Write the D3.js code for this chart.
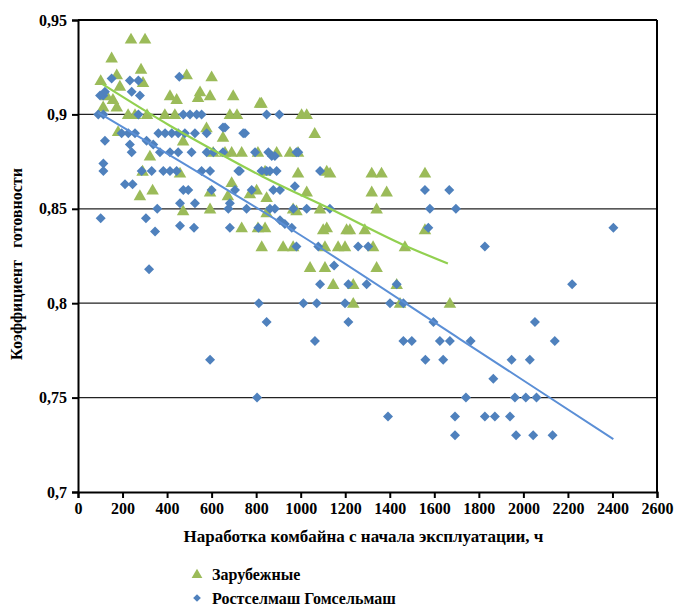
<!DOCTYPE html>
<html>
<head>
<meta charset="utf-8">
<script src="https://cdn.jsdelivr.net/npm/d3@7"></script>
<style>
  body { margin: 0; background: #fff; }
</style>
</head>
<body>
<div id="chart"></div>
<script>
// Зарубежные: [наработка, коэффициент]
const foreign = [
  [238, 0.94], [301, 0.94], [151, 0.93],
  [102, 0.918], [174, 0.921], [283, 0.924], [292, 0.917], [488, 0.921], [600, 0.92],
  [129, 0.91], [188, 0.915], [413, 0.91], [548, 0.912], [539, 0.909], [593, 0.91], [697, 0.91],
  [157, 0.908], [443, 0.908], [817, 0.906], [824, 0.906],
  [113, 0.904], [174, 0.904], [225, 0.9], [256, 0.9], [310, 0.9], [390, 0.9], [435, 0.9],
  [682, 0.9], [714, 0.9], [1004, 0.9], [1027, 0.9],
  [180, 0.891], [577, 0.893], [651, 0.888], [1063, 0.89],
  [323, 0.878], [472, 0.886], [607, 0.88], [660, 0.88], [690, 0.88], [735, 0.88], [808, 0.88],
  [892, 0.88], [952, 0.88], [988, 0.88],
  [290, 0.87], [458, 0.869], [840, 0.87], [988, 0.869], [1117, 0.87], [1132, 0.869],
  [1319, 0.869], [1363, 0.869], [1558, 0.869],
  [278, 0.857], [335, 0.86], [593, 0.859], [673, 0.857], [690, 0.864], [772, 0.858],
  [802, 0.86], [847, 0.856], [1027, 0.859], [1319, 0.859], [1386, 0.859],
  [472, 0.849], [593, 0.85], [847, 0.848], [966, 0.85], [981, 0.849], [1087, 0.85], [1341, 0.85],
  [735, 0.84], [808, 0.84], [840, 0.84], [1101, 0.839], [1206, 0.839], [1221, 0.839],
  [1288, 0.839], [1558, 0.839], [1117, 0.84],
  [825, 0.83], [921, 0.83], [966, 0.83], [1109, 0.83], [1168, 0.83], [1199, 0.83], [1325, 0.83], [1468, 0.83],
  [1042, 0.819], [1109, 0.819], [1341, 0.819],
  [1146, 0.81], [1236, 0.81], [1431, 0.81],
  [1236, 0.8], [1446, 0.8], [1670, 0.8]
];

// Ростселмаш Гомсельмаш
const domestic = [
  [151, 0.919], [233, 0.918], [271, 0.918], [455, 0.92],
  [99, 0.91], [113, 0.91], [121, 0.912], [241, 0.912], [278, 0.91],
  [91, 0.9], [114, 0.9], [271, 0.9], [473, 0.9], [503, 0.9], [533, 0.9], [555, 0.9], [847, 0.9], [904, 0.9],
  [196, 0.89], [226, 0.89], [256, 0.89], [361, 0.89], [391, 0.89], [421, 0.89], [450, 0.89],
  [480, 0.89], [525, 0.89], [578, 0.89], [651, 0.893], [660, 0.893], [742, 0.89], [750, 0.89],
  [121, 0.886], [233, 0.884], [241, 0.88], [308, 0.886], [338, 0.884], [368, 0.88], [413, 0.88],
  [450, 0.88], [510, 0.88], [578, 0.88], [608, 0.88], [651, 0.88], [795, 0.88], [855, 0.88],
  [870, 0.878], [884, 0.878], [981, 0.88], [989, 0.88],
  [114, 0.874], [114, 0.87], [286, 0.87], [331, 0.87], [383, 0.87], [413, 0.87], [443, 0.87],
  [555, 0.87], [593, 0.87], [720, 0.87], [727, 0.87], [824, 0.87], [847, 0.87],
  [862, 0.87], [892, 0.87], [1087, 0.87],
  [211, 0.863], [245, 0.863], [473, 0.86], [495, 0.86], [600, 0.86], [705, 0.86], [780, 0.86],
  [877, 0.86], [907, 0.86], [974, 0.862], [1558, 0.86], [1667, 0.86],
  [356, 0.85], [458, 0.853], [525, 0.853], [682, 0.853], [675, 0.85], [757, 0.85], [862, 0.85],
  [884, 0.85], [967, 0.85], [1027, 0.85], [1131, 0.85], [1580, 0.85], [1697, 0.85],
  [102, 0.845], [305, 0.845], [346, 0.838], [458, 0.841], [521, 0.84], [682, 0.84], [810, 0.84],
  [907, 0.844], [929, 0.842], [960, 0.84], [1573, 0.84], [2404, 0.84],
  [981, 0.83], [1079, 0.83], [1258, 0.83], [1303, 0.83], [1827, 0.83],
  [319, 0.818], [1150, 0.82],
  [1087, 0.81], [1214, 0.81], [1296, 0.81], [1431, 0.81], [2219, 0.81],
  [812, 0.8], [1012, 0.8], [1072, 0.8], [1199, 0.8], [1401, 0.8], [1461, 0.8],
  [847, 0.79], [1214, 0.79], [1596, 0.79], [2052, 0.79],
  [1064, 0.78], [1461, 0.78], [1499, 0.78], [1625, 0.78], [1670, 0.78], [1763, 0.78], [2141, 0.78],
  [593, 0.77], [1560, 0.77], [1640, 0.77], [1947, 0.77], [2029, 0.77],
  [1865, 0.76],
  [804, 0.75], [1742, 0.75], [1962, 0.75], [2011, 0.75], [2059, 0.75],
  [1392, 0.74], [1693, 0.74], [1827, 0.74], [1872, 0.74], [1940, 0.74],
  [1693, 0.73], [1967, 0.73], [2044, 0.73], [2131, 0.73]
];

// линии тренда
const foreignTrend = [[110, 0.916], [413, 0.894], [548, 0.885], [830, 0.867], [1132, 0.85], [1459, 0.831], [1661, 0.821]];
const domesticTrend = [[91, 0.901], [1000, 0.836], [1715, 0.781], [2404, 0.728]];

const xTicks = d3.range(0, 2601, 200);
const yTicks = [0.7, 0.75, 0.8, 0.85, 0.9, 0.95];
const legendLabels = ['Зарубежные', 'Ростселмаш Гомсельмаш'];

const FONT = '"Liberation Serif", "Times New Roman", serif';

const W = 676, H = 606;
const margin = { top: 20, right: 19, bottom: 114, left: 78 };
const width = W - margin.left - margin.right;
const height = H - margin.top - margin.bottom;

const svg = d3.select('#chart').append('svg')
  .attr('width', W).attr('height', H)
  .attr('font-family', FONT).attr('font-weight', 'bold');
const g = svg.append('g').attr('transform', `translate(${margin.left},${margin.top})`);

const x = d3.scaleLinear().domain([0, 2600]).range([0, width]);
const y = d3.scaleLinear().domain([0.7, 0.95]).range([height, 0]);
const fmt = d => String(+d.toFixed(2)).replace('.', ',');

// сетка
g.selectAll('.grid').data(yTicks.slice(1, -1)).enter().append('line')
  .attr('x1', 0).attr('x2', width)
  .attr('y1', d => y(d)).attr('y2', d => y(d))
  .attr('stroke', '#222').attr('stroke-width', 1.2);

// рамка сверху и справа
g.append('line').attr('x1', 0).attr('x2', width).attr('y1', 0).attr('y2', 0)
  .attr('stroke', '#000').attr('stroke-width', 2);
g.append('line').attr('x1', width).attr('x2', width).attr('y1', 0).attr('y2', height)
  .attr('stroke', '#000').attr('stroke-width', 2);

// оси
const xAxis = g.append('g').attr('transform', `translate(0,${height})`)
  .call(d3.axisBottom(x).tickValues(xTicks).tickSize(6).tickPadding(5).tickFormat(d3.format('d')));
const yAxis = g.append('g')
  .call(d3.axisLeft(y).tickValues(yTicks).tickSize(6).tickPadding(5).tickFormat(fmt));
[xAxis, yAxis].forEach(a => {
  a.attr('font-family', FONT).attr('font-weight', 'bold');
  a.select('.domain').attr('stroke', '#000').attr('stroke-width', 2);
  a.selectAll('.tick line').attr('stroke', '#000').attr('stroke-width', 2);
  a.selectAll('.tick text').attr('font-size', 16).attr('fill', '#000');
});

// точки
const tri = d3.symbol().type(d3.symbolTriangle).size(68);
const dia = d3.symbol().type(d3.symbolSquare).size(50);

g.selectAll('.foreign').data(foreign).enter().append('path')
  .attr('d', tri)
  .attr('transform', d => `translate(${x(d[0])},${y(d[1]) + 1})`)
  .attr('fill', '#9BBB59');

g.selectAll('.domestic').data(domestic).enter().append('path')
  .attr('d', dia)
  .attr('transform', d => `translate(${x(d[0])},${y(d[1])}) rotate(45)`)
  .attr('fill', '#4F81BD');

// тренды
const line = d3.line().x(d => x(d[0])).y(d => y(d[1])).curve(d3.curveMonotoneX);
g.append('path').datum(foreignTrend).attr('d', line)
  .attr('fill', 'none').attr('stroke', '#92D050').attr('stroke-width', 2.2);
g.append('path').datum(domesticTrend).attr('d', line)
  .attr('fill', 'none').attr('stroke', '#5B8FD6').attr('stroke-width', 2);

// подписи осей
svg.append('text')
  .attr('x', margin.left + width / 2 - 4).attr('y', 542)
  .attr('text-anchor', 'middle').attr('font-size', 17)
  .text('Наработка комбайна с начала эксплуатации, ч');

svg.append('text')
  .attr('transform', `translate(22,${margin.top + height / 2 + 8}) rotate(-90)`)
  .attr('text-anchor', 'middle').attr('font-size', 16)
  .attr('xml:space', 'preserve').style('white-space', 'pre')
  .text('Коэффициент   готовности');

// легенда
const legend = svg.append('g').attr('transform', 'translate(197,574)');
legend.append('path').attr('d', d3.symbol().type(d3.symbolTriangle).size(50))
  .attr('transform', 'translate(0,1)').attr('fill', '#9BBB59');
legend.append('path').attr('d', d3.symbol().type(d3.symbolSquare).size(30))
  .attr('transform', 'translate(0,24) rotate(45)').attr('fill', '#4F81BD');
legend.selectAll('.lt').data(legendLabels).enter().append('text')
  .attr('x', 15).attr('y', (d, i) => i * 24 + 6)
  .attr('font-size', 16)
  .text(d => d);
</script>
</body>
</html>
